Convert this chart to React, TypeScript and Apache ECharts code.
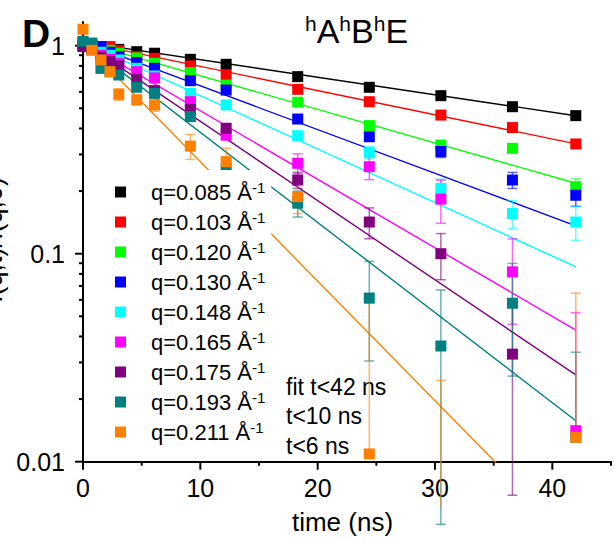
import React, { useEffect, useRef } from 'react';
import * as echarts from 'echarts';

const FONT = '"Liberation Sans", Arial, Helvetica, sans-serif';

// delay times (ns)
const timeNs = [0, 0.76, 1.53, 2.3, 3.05, 4.58, 6.1, 9.15, 12.2, 18.3, 24.4, 30.5, 36.6, 42];

const qValues = ['0.085', '0.103', '0.120', '0.130', '0.148', '0.165', '0.175', '0.193', '0.211'];
const qColors = ['#000000', '#ff0000', '#00ff00', '#0000ff', '#00ffff', '#ff00ff', '#800080', '#008080', '#ff8000'];

// normalised intermediate scattering function I(q,t)/I(q,0)
const isf085 = [1.02, 1.0, 0.99, null, 0.96, 0.936, 0.92, 0.86, 0.814, 0.71, 0.631, 0.575, 0.509, 0.461];
const isf103 = [1.04, 1.0, 0.99, 0.99, 0.946, 0.885, 0.87, 0.8, 0.723, 0.617, 0.538, 0.464, 0.404, 0.337];
const isf120 = [1.01, 0.99, 0.97, 0.95, 0.92, 0.873, 0.823, 0.742, 0.647, 0.535, 0.413, 0.333, 0.321, 0.21];
const isf130 = [1.0, 0.99, 0.99, 0.93, 0.885, 0.83, 0.779, 0.679, 0.612, 0.444, 0.365, 0.31, 0.226, 0.191];
const isf148 = [1.03, 0.98, 0.93, 0.9, 0.854, 0.779, 0.715, 0.59, 0.519, 0.369, 0.306, 0.206, 0.156, 0.142];
const isf165 = [1.02, 0.97, 0.9, 0.86, 0.82, 0.75, 0.7, 0.538, 0.372, 0.272, 0.262, 0.183, 0.0818, 0.0141];
const isf175 = [0.99, 0.96, 0.88, 0.84, 0.8, 0.689, 0.608, 0.494, 0.401, 0.226, 0.142, 0.1, 0.0329, null];
const isf193 = [1.05, 1.03, 0.778, 0.75, 0.723, 0.631, 0.59, 0.456, 0.257, 0.175, 0.0612, 0.036, 0.0578, 0.0131];
const isf211 = [1.2, 0.95, 0.854, 0.75, 0.584, 0.549, 0.519, 0.329, 0.277, 0.188, 0.0109, 0.006, null, 0.0131];

// absolute errors
const err085 = [0.01, 0.01, 0.01, null, 0.01, 0.01, 0.01, 0.01, 0.01, 0.01, 0.01, 0.012, 0.012, 0.012];
const err103 = [0.012, 0.012, 0.012, 0.012, 0.012, 0.012, 0.012, 0.012, 0.012, 0.012, 0.012, 0.012, 0.012, 0.012];
const err120 = [0.015, 0.015, 0.015, 0.015, 0.015, 0.015, 0.015, 0.015, 0.015, 0.015, 0.015, 0.015, 0.015, 0.019];
const err130 = [0.015, 0.015, 0.015, 0.015, 0.015, 0.015, 0.015, 0.015, 0.015, 0.015, 0.015, 0.02, 0.02, 0.022];
const err148 = [0.015, 0.015, 0.015, 0.015, 0.015, 0.015, 0.015, 0.015, 0.015, 0.018, 0.021, 0.022, 0.024, 0.026];
const err165 = [0.02, 0.02, 0.02, 0.02, 0.02, 0.02, 0.02, 0.02, 0.02, 0.03, 0.035, 0.043, 0.036, 0.038];
const err175 = [0.02, 0.02, 0.02, 0.02, 0.02, 0.02, 0.02, 0.02, 0.02, 0.02, 0.024, 0.025, 0.026, null];
const err193 = [0.02, 0.02, 0.02, 0.02, 0.02, 0.02, 0.02, 0.02, 0.02, 0.025, 0.0307, 0.031, 0.032, 0.0205];
const err211 = [0.03, 0.03, 0.03, 0.03, 0.037, 0.03, 0.035, 0.045, 0.045, 0.032, 0.047, 0.0186, null, 0.0515];

// single-exponential fits A*exp(-Gamma*t)
const fitAmplitude = [1.04, 1.04, 1.04, 1.04, 1.04, 1.04, 1.04, 1.04, 1.04];
const fitRate = [0.0194, 0.0268, 0.0372, 0.0484, 0.0592, 0.0759, 0.0877, 0.0998, 0.1323];
const fitRangeNs = [0, 42];

const xMajorTicks = [0, 10, 20, 30, 40];
const xMinorTicks = [5, 15, 25, 35, 45];
const yMajorTicks = [0.01, 0.1, 1];

const isfSets = [isf085, isf103, isf120, isf130, isf148, isf165, isf175, isf193, isf211];
const errSets = [err085, err103, err120, err130, err148, err165, err175, err193, err211];

function buildOption() {
  const names = qValues.map((q) => `q=${q}`);

  const fitLines = fitRate.map((g, i) => ({
    type: 'line',
    name: `fit ${i}`,
    z: 2,
    silent: true,
    symbol: 'none',
    lineStyle: { color: qColors[i], width: 1.4 },
    data: fitRangeNs.map((t) => [t, fitAmplitude[i] * Math.exp(-g * t)]),
  }));

  const errorBars = isfSets.map((vals, i) => {
    const data: number[][] = [];
    timeNs.forEach((t, k) => {
      const v = vals[k];
      const e = errSets[i][k];
      if (v != null && e != null) data.push([t, v, e]);
    });
    const color = qColors[i];
    return {
      type: 'custom',
      name: `err ${i}`,
      z: 3,
      silent: true,
      clip: false,
      encode: { x: 0, y: 1 },
      data,
      renderItem: (_p: any, api: any) => {
        const t = api.value(0);
        const v = api.value(1);
        const e = api.value(2);
        const mid = api.coord([t, v]);
        const hi = api.coord([t, v + e]);
        const cap = 5;
        const style = { stroke: color, lineWidth: 1.5, opacity: 0.6 };
        const children: any[] = [
          { type: 'line', shape: { x1: mid[0], y1: mid[1], x2: hi[0], y2: hi[1] }, style },
          { type: 'line', shape: { x1: hi[0] - cap, y1: hi[1], x2: hi[0] + cap, y2: hi[1] }, style },
        ];
        if (v - e > 0) {
          const lo = api.coord([t, v - e]);
          children.push({ type: 'line', shape: { x1: mid[0], y1: mid[1], x2: lo[0], y2: lo[1] }, style });
          children.push({ type: 'line', shape: { x1: lo[0] - cap, y1: lo[1], x2: lo[0] + cap, y2: lo[1] }, style });
        }
        return { type: 'group', children };
      },
    };
  });

  const markers = isfSets.map((vals, i) => {
    const data: number[][] = [];
    timeNs.forEach((t, k) => {
      const v = vals[k];
      if (v != null) data.push([t, v]);
    });
    return {
      type: 'scatter',
      name: names[i],
      z: 4,
      symbol: 'rect',
      symbolSize: 11,
      itemStyle: { color: qColors[i], opacity: 1 },
      data,
    };
  });

  // axis ticks, drawn outward from the axis lines
  const yMinorTicks: number[] = [];
  [0.01, 0.1].forEach((d) => {
    for (let m = 2; m <= 9; m++) yMinorTicks.push(+(d * m).toPrecision(3));
  });
  const tickData = [
    ...yMajorTicks.map((v) => [0, v, 0]),
    ...yMinorTicks.map((v) => [0, v, 1]),
    ...xMajorTicks.map((v) => [v, 0.01, 2]),
    ...xMinorTicks.map((v) => [v, 0.01, 3]),
  ];
  const ticks = {
    type: 'custom',
    name: 'ticks',
    z: 1,
    silent: true,
    clip: false,
    encode: { x: 0, y: 1 },
    data: tickData,
    renderItem: (_p: any, api: any) => {
      const kind = api.value(2);
      const p = api.coord([api.value(0), api.value(1)]);
      const len = kind % 2 === 0 ? 8 : 4;
      const shape =
        kind < 2
          ? { x1: p[0] - len, y1: p[1], x2: p[0], y2: p[1] }
          : { x1: p[0], y1: p[1], x2: p[0], y2: p[1] + len };
      return { type: 'line', shape, style: { stroke: '#000', lineWidth: 2 } };
    },
  };

  return {
    animation: false,
    backgroundColor: '#ffffff',
    textStyle: { fontFamily: FONT },
    grid: { left: 83, top: 22, width: 530, height: 439.7, containLabel: false },
    xAxis: {
      type: 'value',
      min: 0,
      max: 45,
      interval: 10,
      splitLine: { show: false },
      axisLine: { lineStyle: { color: '#000', width: 2 } },
      axisTick: { show: false },
      axisLabel: {
        margin: 14,
        fontSize: 25,
        fontFamily: FONT,
        color: '#000',
        formatter: (v: number) => (v % 10 === 0 ? String(v) : ''),
      },
    },
    yAxis: {
      type: 'log',
      logBase: 10,
      min: 0.01,
      max: 1.3,
      splitLine: { show: false },
      axisLine: { show: true, lineStyle: { color: '#000', width: 2 } },
      axisTick: { show: false },
      axisLabel: {
        margin: 18,
        fontSize: 25,
        fontFamily: FONT,
        color: '#000',
        formatter: (v: number) => (v > 1.001 ? '' : String(Number(v.toPrecision(2)))),
      },
    },
    legend: {
      data: names,
      orient: 'vertical',
      left: 103,
      top: 170,
      padding: [10, 6, 8, 12],
      itemGap: 7,
      itemWidth: 11,
      itemHeight: 11,
      icon: 'rect',
      selectedMode: false,
      backgroundColor: '#ffffff',
      z: 10,
      formatter: (name: string) => `{t|${name} Å}{s|-1}`,
      textStyle: {
        padding: [0, 0, 0, 20],
        rich: {
          t: { fontFamily: FONT, fontSize: 22, lineHeight: 24, color: '#000' },
          s: { fontFamily: FONT, fontSize: 15, lineHeight: 16, verticalAlign: 'top', color: '#000' },
        },
      },
    },
    graphic: [
      {
        type: 'text',
        left: 22,
        top: 14,
        style: { text: 'D', font: `bold 39px ${FONT}`, fill: '#000' },
      },
      {
        type: 'text',
        x: 305,
        y: 31,
        style: {
          text: '{h|h}{m|A}{h|h}{m|B}{h|h}{m|E}',
          verticalAlign: 'middle',
          align: 'left',
          rich: {
            m: { fontFamily: FONT, fontSize: 34, lineHeight: 36, fill: '#000' },
            h: { fontFamily: FONT, fontSize: 21, lineHeight: 20, verticalAlign: 'top', fill: '#000' },
          },
        },
      },
      {
        type: 'text',
        x: -7,
        y: 240,
        rotation: Math.PI / 2,
        style: {
          text: 'I(q,t)/I(q,0)',
          font: `27px ${FONT}`,
          fill: '#000',
          align: 'center',
          verticalAlign: 'middle',
        },
      },
      {
        type: 'text',
        x: 342.5,
        y: 522,
        style: {
          text: 'time (ns)',
          font: `26px ${FONT}`,
          fill: '#000',
          align: 'center',
          verticalAlign: 'middle',
        },
      },
      {
        type: 'text',
        x: 286,
        y: 372,
        style: {
          text: 'fit t<42 ns\nt<10 ns\nt<6 ns',
          font: `23px ${FONT}`,
          lineHeight: 29.5,
          fill: '#000',
          align: 'left',
          verticalAlign: 'top',
        },
      },
    ],
    series: [ticks, ...fitLines, ...errorBars, ...markers],
  };
}

export default function App() {
  const ref = useRef<HTMLDivElement>(null);
  useEffect(() => {
    if (!ref.current) return;
    const chart = echarts.init(ref.current, undefined, { renderer: 'svg' });
    chart.setOption(buildOption() as any);
    return () => chart.dispose();
  }, []);
  return (
    <div
      ref={ref}
      style={{ position: 'fixed', left: 0, top: 0, width: 614, height: 543, background: '#fff' }}
    />
  );
}
